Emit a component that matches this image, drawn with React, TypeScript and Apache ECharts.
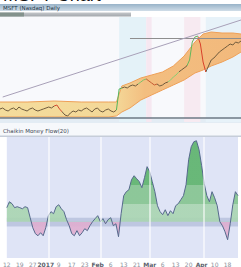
import React, { useEffect, useRef } from "react";
import * as echarts from "echarts";

// x axis: trading-day index, one tick label every 5 days
const tickLabels = ["12", "19", "27", "2017", "9", "17", "23", "Feb", "6", "13", "21", "Mar", "6", "13", "20", "Apr", "10", "18"];
const monthTicks = ["2017", "Feb", "Mar", "Apr"];
const monthDays = [16, 36, 55, 76];

// daily closing price
const priceClose = [
  57.6, 57.8, 57.4, 57.2, 57.6, 57.8, 57.4, 58.0, 57.6, 57.4,
  57.2, 57.6, 57.8, 57.4, 57.2, 57.4, 57.6, 57.8, 58.0, 57.8,
  58.2, 58.4, 57.6, 57.0, 56.4, 56.2, 56.8, 57.2, 57.0, 57.4,
  57.2, 57.6, 57.8, 57.4, 57.0, 57.6, 57.8, 57.2, 57.0, 57.4,
  57.6, 57.2, 57.0, 57.4, 61.6, 61.8, 62.0, 61.8, 62.2, 62.4,
  62.2, 62.6, 63.0, 63.4, 63.6, 63.2, 62.8, 62.4, 62.6, 62.2,
  62.4, 62.8, 63.0, 63.4, 64.0, 64.4, 65.0, 65.4, 65.8, 66.2,
  67.4, 71.0, 72.0, 72.2, 70.6, 67.0, 65.0, 66.2, 67.4, 67.8,
  68.4, 69.0, 69.4, 69.8, 70.2, 70.6, 70.4, 71.0, 70.8, 71.2,
];

// price envelope (upper / lower band) at sampled days
const bandDays = [0, 10, 20, 30, 40, 43, 45, 48, 52, 56, 60, 64, 68, 72, 75, 78, 82, 86, 89];
const bandUpper = [59.0, 59.0, 59.2, 59.0, 59.0, 59.0, 62.2, 62.8, 63.8, 64.4, 65.0, 66.2, 68.2, 71.0, 72.6, 73.0, 72.8, 72.8, 72.6];
const bandLower = [56.0, 56.0, 56.0, 56.0, 56.0, 56.2, 57.0, 57.8, 59.4, 60.4, 61.4, 62.4, 63.4, 64.8, 65.4, 66.2, 67.0, 68.0, 69.0];

// reference lines on the price pane
const supportLevel = 55.8;
const resistanceLevel = 71.8;
const resistanceStartDay = 48;
const trendStart = [1, 60.0];
const trendEnd = [89, 75.4];

// Chaikin Money Flow (20), daily
const cmf = [
  0.116, 0.165, 0.149, 0.116, 0.124, 0.116, 0.107, 0.124, 0.116, 0.033,
  -0.05, -0.099, -0.116, -0.091, -0.116, -0.05, 0.05, 0.083, 0.066, 0.124,
  0.14, 0.107, 0.083, 0.017, -0.033, -0.099, -0.116, -0.074, -0.116, -0.091,
  -0.058, -0.074, -0.033, 0, 0.025, 0.05, 0, 0.025, -0.017, 0.017,
  0.033, -0.033, -0.017, -0.124, 0.066, 0.215, 0.248, 0.264, 0.347, 0.38,
  0.355, 0.331, 0.281, 0.364, 0.455, 0.413, 0.331, 0.248, 0.132, 0.083,
  0.058, 0.099, 0.05, 0.091, 0.066, 0.132, 0.149, 0.182, 0.215, 0.306,
  0.512, 0.62, 0.661, 0.669, 0.595, 0.463, 0.314, 0.215, 0.165, 0.248,
  0.198, 0.132, 0, -0.033, -0.083, -0.149, -0.017, 0.14, 0.248, 0.215,
];

export default function App() {
  const ref = useRef<HTMLDivElement>(null);
  useEffect(() => {
    if (!ref.current) return;
    const chart = echarts.init(ref.current, null, { renderer: "svg" });
    const lastDay = priceClose.length - 1;
    const fmt = (v: number) => {
      if (v % 5 !== 0) return "";
      const t = tickLabels[v / 5];
      if (t === undefined) return "";
      return monthTicks.includes(t) ? `{m|${t}}` : t;
    };
    const monthLines = (color: string) => ({
      silent: true,
      symbol: "none",
      label: { show: false },
      lineStyle: { color, width: 2, type: "solid" },
      data: monthDays.map((d) => ({ xAxis: d })),
    });
    const bandFill = {
      type: "linear", x: 0, y: 0, x2: 1, y2: 0,
      colorStops: [
        { offset: 0, color: "#f4dc9c" },
        { offset: 0.48, color: "#f4d898" },
        { offset: 0.6, color: "#f3be80" },
        { offset: 1, color: "#f2b97c" },
      ],
    };
    chart.setOption({
      animation: false,
      backgroundColor: "#ffffff",
      grid: [
        { left: 0, right: 0, top: 17, height: 105, show: true, backgroundColor: "#f8f9fc", borderWidth: 0 },
        { left: 0, right: 0, top: 137, height: 121, show: true, backgroundColor: "#dfe4f6", borderWidth: 0 },
      ],
      xAxis: [
        { type: "value", gridIndex: 0, min: 0, max: lastDay, interval: 5, show: false },
        {
          type: "value", gridIndex: 1, min: 0, max: lastDay, interval: 5,
          axisLine: { show: false }, axisTick: { show: false }, splitLine: { show: false },
          axisLabel: {
            fontSize: 6, color: "#8a909a", margin: 3, formatter: fmt, fontFamily: "DejaVu Sans",
            rich: { m: { fontSize: 6, fontWeight: "bold", color: "#5a606a", fontFamily: "DejaVu Sans" } },
          },
        },
      ],
      yAxis: [
        { type: "value", gridIndex: 0, min: 55, max: 76, show: false },
        { type: "value", gridIndex: 1, min: -0.3, max: 0.7, show: false },
      ],
      visualMap: [
        {
          type: "piecewise", show: false, seriesIndex: 3, dimension: 0,
          pieces: [
            { gt: 20, lte: 23, color: "#d2472c" },
            { gt: 43, lte: 45, color: "#56b45a" },
            { gt: 51, lte: 54, color: "#7cc06a" },
            { gt: 54, lte: 58, color: "#c55a32" },
            { gt: 62, lte: 66, color: "#8ccc72" },
            { gt: 69, lte: 73, color: "#62b85c" },
            { gt: 73, lte: 76, color: "#d8402a" },
          ],
          outOfRange: { color: "#6f5a3c" },
        },
        {
          type: "piecewise", show: false, seriesIndex: 4, dimension: 1,
          pieces: [
            { gte: 0.3, color: "#5cb36b" },
            { gte: 0.15, lt: 0.3, color: "#84c48f" },
            { gte: 0, lt: 0.15, color: "#a9d5b1" },
            { lt: 0, color: "#dfaed0" },
          ],
        },
      ],
      series: [
        {
          name: "BandFill", type: "custom", xAxisIndex: 0, yAxisIndex: 0,
          data: [[0, bandLower[0]]], encode: { x: 0, y: 1 }, z: 2, silent: true,
          renderItem: (_p: any, api: any) => {
            const up = bandDays.map((d, i) => api.coord([d, bandUpper[i]]));
            const lo = bandDays.map((d, i) => api.coord([d, bandLower[i]])).reverse();
            return { type: "polygon", shape: { points: up.concat(lo) }, style: { fill: bandFill } };
          },
          markArea: {
            silent: true,
            data: [
              [{ xAxis: 44, itemStyle: { color: "#e4f2f8" } }, { xAxis: 54 }],
              [{ xAxis: 54, itemStyle: { color: "#f6e8f1" } }, { xAxis: 56 }],
              [{ xAxis: 68, itemStyle: { color: "#f7eaf1" } }, { xAxis: 74 }],
              [{ xAxis: 76, itemStyle: { color: "#e7f2f9" } }, { xAxis: 89 }],
            ],
          },
          markLine: {
            silent: true, symbol: "none", label: { show: false },
            data: [
              { yAxis: supportLevel, lineStyle: { color: "#6d7985", width: 1.5, type: "solid" } },
              [
                { coord: [resistanceStartDay, resistanceLevel], lineStyle: { color: "#8e8e8e", width: 1, type: "solid" } },
                { coord: [lastDay, resistanceLevel] },
              ],
              [
                { coord: trendStart, lineStyle: { color: "#a8a0b8", width: 1, type: "solid" } },
                { coord: trendEnd },
              ],
            ],
          },
        },
        {
          name: "Upper", type: "line", xAxisIndex: 0, yAxisIndex: 0,
          data: bandDays.map((d, i) => [d, bandUpper[i]]),
          symbol: "none", lineStyle: { color: "#eea058", width: 1 }, z: 3,
        },
        {
          name: "Lower", type: "line", xAxisIndex: 0, yAxisIndex: 0,
          data: bandDays.map((d, i) => [d, bandLower[i]]),
          symbol: "none", lineStyle: { color: "#eea058", width: 1 }, z: 3,
        },
        {
          name: "Price", type: "line", xAxisIndex: 0, yAxisIndex: 0,
          data: priceClose.map((v, i) => [i, v]),
          symbol: "none", lineStyle: { width: 1 }, z: 4,
        },
        {
          name: "CMF area", type: "line", xAxisIndex: 1, yAxisIndex: 1,
          data: cmf.map((v, i) => [i, v]),
          symbol: "none", lineStyle: { width: 0 }, areaStyle: { opacity: 0.9 }, z: 3,
          markArea: {
            silent: true,
            data: [[{ yAxis: -0.04, itemStyle: { color: "rgba(150,164,200,0.45)" } }, { yAxis: 0.033 }]],
          },
          markLine: monthLines("rgba(255,255,255,0.55)"),
        },
        {
          name: "CMF", type: "line", xAxisIndex: 1, yAxisIndex: 1,
          data: cmf.map((v, i) => [i, v]),
          symbol: "none", lineStyle: { color: "#56698c", width: 1 }, z: 4,
        },
      ],
      graphic: [
        { type: "text", left: 3, top: -14, style: { text: "MSFT Chart", fontSize: 18, fill: "#111111", fontFamily: "Liberation Sans" } },
        {
          type: "rect", shape: { x: 0, y: 4, width: 241, height: 7 },
          style: { fill: { type: "linear", x: 0, y: 0, x2: 0, y2: 1, colorStops: [{ offset: 0, color: "#98b3c8" }, { offset: 1, color: "#d0dde8" }] } },
        },
        { type: "text", left: 3, top: 4.8, style: { text: "MSFT (Nasdaq) Daily", fontSize: 5.5, fill: "#1e3344", fontFamily: "DejaVu Sans" } },
        {
          type: "rect", shape: { x: 0, y: 12.5, width: 131, height: 4 },
          style: { fill: { type: "linear", x: 0, y: 0, x2: 0, y2: 1, colorStops: [{ offset: 0, color: "#c4c7ca" }, { offset: 1, color: "#a2a7ac" }] } },
        },
        { type: "rect", shape: { x: 0, y: 12.5, width: 24, height: 4 }, style: { fill: "#83928c" } },
        { type: "rect", shape: { x: 0, y: 119, width: 241, height: 4 }, style: { fill: "#e3ecf4" } },
        { type: "rect", shape: { x: 0, y: 123, width: 241, height: 13 }, style: { fill: "#f6f8fb" } },
        { type: "text", left: 3, top: 128, style: { text: "Chaikin Money Flow(20)", fontSize: 5.5, fill: "#3b4452", fontFamily: "DejaVu Sans" } },
        { type: "rect", shape: { x: 0, y: 135.5, width: 241, height: 1.5 }, style: { fill: "#c6cdd9" } },
      ],
    });
    return () => chart.dispose();
  }, []);
  return <div ref={ref} style={{ position: "fixed", left: 0, top: 0, width: 241, height: 267 }} />;
}
